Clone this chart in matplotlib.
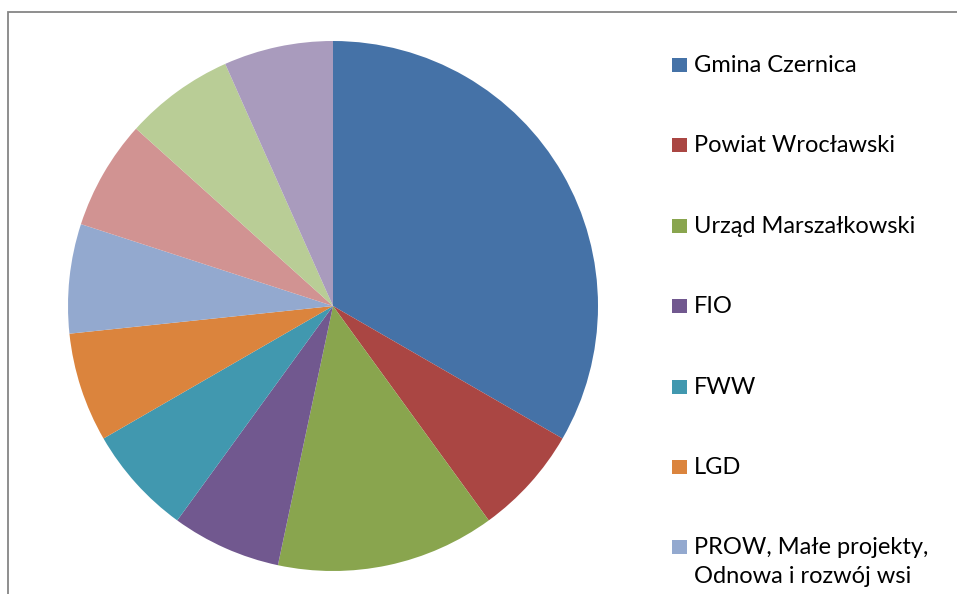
import matplotlib.pyplot as plt
from matplotlib.patches import Rectangle

# udział źródeł finansowania (w częściach)
labels = ['Gmina Czernica', 'Powiat Wrocławski', 'Urząd Marszałkowski', 'FIO', 'FWW', 'LGD',
          'PROW, Małe projekty,\nOdnowa i rozwój wsi', 'Sponsorzy', 'Środki własne', 'Inne']
values = [5, 1, 2, 1, 1, 1, 1, 1, 1, 1]
colors = ['#4572A7', '#AA4643', '#89A54E', '#71588F', '#4198AF', '#DB843D',
          '#93A9CF', '#D19392', '#B9CD96', '#A99BBD']

W, H = 957, 594
fig = plt.figure(figsize=(W / 100, H / 100), dpi=100)

# ramka wykresu (obcięta z prawej i z dołu)
fig.patches.append(Rectangle((8 / W, -0.1), 1.2, 1.1 - 12 / H, transform=fig.transFigure,
                             fill=False, edgecolor='#868686', linewidth=1.3))

cx, cy, r = 333, 306, 265
ax = fig.add_axes([(cx - r) / W, (H - cy - r) / H, 2 * r / W, 2 * r / H])
ax.pie(values, colors=colors, startangle=90, counterclock=False,
       wedgeprops={'linewidth': 0})
ax.set_xlim(-1, 1)
ax.set_ylim(-1, 1)

# legenda (reszta wpisów nie mieści się w obrazku)
for i, (lab, col) in enumerate(zip(labels, colors)):
    base = 72 + 80.4 * i
    if base > H:
        break
    fig.patches.append(Rectangle((672 / W, 1 - base / H), 15 / W, 14 / H,
                                 transform=fig.transFigure, color=col, linewidth=0))
    for j, line in enumerate(lab.split('\n')):
        fig.text(694 / W, 1 - (base + 29 * j) / H, line, fontsize=17, family='Lato',
                 va='baseline', ha='left', color='black')

plt.savefig('out.png', dpi=100)
